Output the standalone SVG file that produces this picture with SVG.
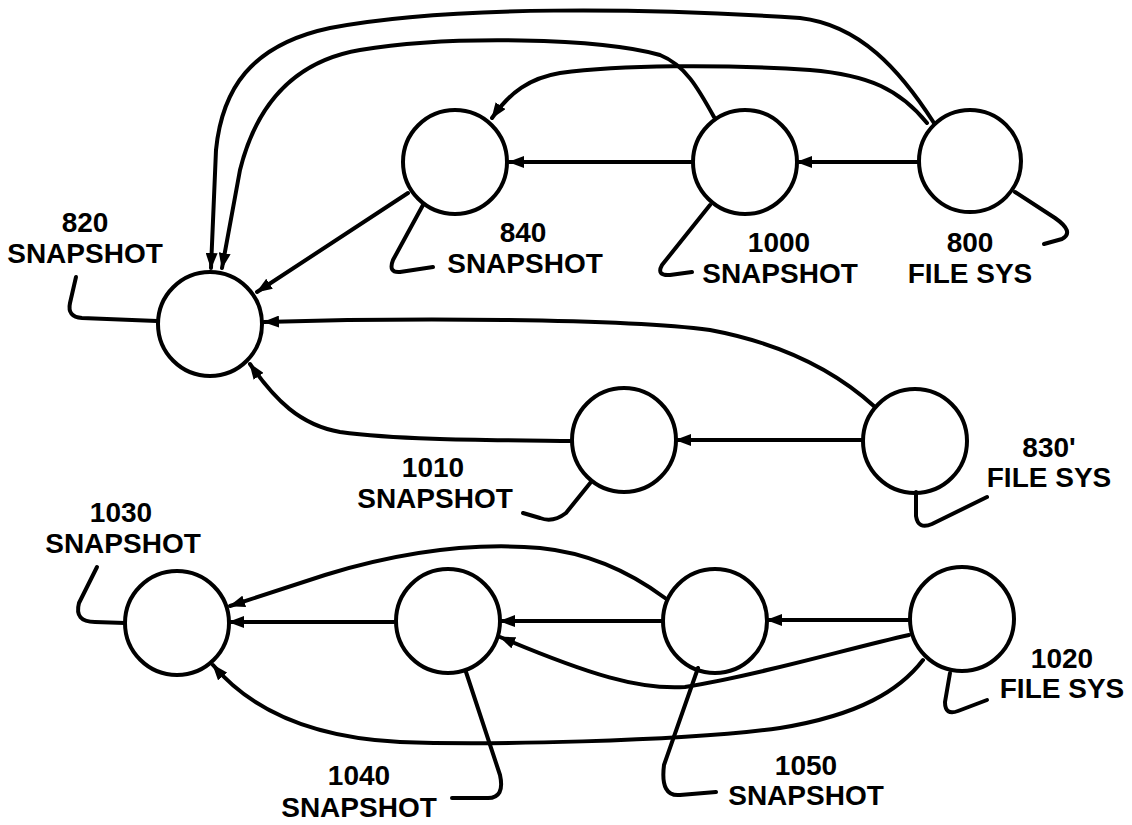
<svg xmlns="http://www.w3.org/2000/svg" width="1132" height="825" viewBox="0 0 1132 825">
<defs>
<marker id="ah" markerUnits="userSpaceOnUse" markerWidth="16" markerHeight="12" refX="15" refY="6" orient="auto">
<path d="M0,0 L16,6 L0,12 z" fill="#000"/>
</marker>
<style>
.n{fill:#fff;stroke:#000;stroke-width:4}
.c{fill:none;stroke:#000;stroke-width:4;stroke-linecap:round;stroke-linejoin:round}
.a{marker-end:url(#ah)}
.t{font-family:"Liberation Sans",Arial,sans-serif;font-weight:bold;font-size:28px;text-anchor:middle;fill:#000}
</style>
</defs>
<rect width="1132" height="825" fill="#fff"/>
<g id="connectors">
<path class="c a" d="M934 123 C900 70,860 25,800 18 C650 8,450 5,330 28 C250 45,222 90,216 150 L211 268"/>
<path class="c a" d="M714 117 C698 88,685 65,660 55 C600 38,450 35,360 50 C290 62,255 110,240 170 L222 268"/>
<path class="c a" d="M927 123 C900 90,870 75,810 70 C720 64,620 65,560 73 C530 78,510 92,492 118"/>
<path class="c a" d="M693 162 L509 162"/>
<path class="c a" d="M919 162 L797 162"/>
<path class="c a" d="M408 193 L257 292"/>
<path class="c a" d="M875 407 C840 375,790 345,710 330 C620 318,400 318,264 322"/>
<path class="c a" d="M862 440 L676 440"/>
<path class="c a" d="M572 441 C480 440,400 440,340 432 C300 425,275 400,250 364"/>
<path class="c a" d="M665 598 C630 572,590 553,540 548 C470 542,400 552,325 575 L230 606"/>
<path class="c a" d="M394 622 L229 622"/>
<path class="c a" d="M663 621 L500 621"/>
<path class="c a" d="M909 620 L767 620"/>
<path class="c a" d="M909 635 C850 648,760 675,685 687 C640 690,590 675,500 637"/>
<path class="c a" d="M923 660 C900 690,860 715,780 728 C680 742,480 745,400 742 C320 738,255 715,213 665"/>
</g>
<g id="n820"><circle class="n" cx="210" cy="324" r="52"/><path class="c" d="M76 277 L70 303 Q67 317 82 318 L157 321"/><text class="t" x="85" y="232">820</text><text class="t" x="85" y="263">SNAPSHOT</text></g>
<g id="n840"><circle class="n" cx="455" cy="162" r="52"/><path class="c" d="M423 205 L393 260 Q388 273 400 272 L433 267"/><text class="t" x="523" y="242">840</text><text class="t" x="525" y="273">SNAPSHOT</text></g>
<g id="n1000"><circle class="n" cx="745" cy="162" r="52"/><path class="c" d="M710 205 L662 265 Q656 276 670 275 L692 272"/><text class="t" x="779" y="252">1000</text><text class="t" x="780" y="283">SNAPSHOT</text></g>
<g id="n800"><circle class="n" cx="970" cy="161" r="51"/><path class="c" d="M1015 192 L1055 218 Q1075 232 1062 239 L1044 244"/><text class="t" x="970" y="252">800</text><text class="t" x="970" y="283">FILE SYS</text></g>
<g id="n1010"><circle class="n" cx="624" cy="440" r="52"/><path class="c" d="M591 482 L566 513 Q553 523 540 518 L523 513"/><text class="t" x="433" y="477">1010</text><text class="t" x="435" y="508">SNAPSHOT</text></g>
<g id="n830"><circle class="n" cx="915" cy="441" r="52"/><path class="c" d="M916 492 L916 516 Q918 530 932 524 L987 497"/><text class="t" x="1049" y="457">830'</text><text class="t" x="1049" y="487">FILE SYS</text></g>
<g id="n1030"><circle class="n" cx="177" cy="623" r="52"/><path class="c" d="M97 567 L79 603 Q74 622 95 622 L125 623"/><text class="t" x="121" y="522">1030</text><text class="t" x="123" y="553">SNAPSHOT</text></g>
<g id="n1040"><circle class="n" cx="448" cy="621" r="52"/><path class="c" d="M466 672 L500 775 Q505 798 488 798 L452 798"/><text class="t" x="359" y="785">1040</text><text class="t" x="359" y="817">SNAPSHOT</text></g>
<g id="n1050"><circle class="n" cx="715" cy="621" r="52"/><path class="c" d="M698 668 L664 765 Q660 797 680 795 L716 792"/><text class="t" x="806" y="775">1050</text><text class="t" x="806" y="805">SNAPSHOT</text></g>
<g id="n1020"><circle class="n" cx="962" cy="619" r="52"/><path class="c" d="M950 673 L945 702 Q945 716 958 711 L987 700"/><text class="t" x="1062" y="668">1020</text><text class="t" x="1062" y="698">FILE SYS</text></g>
</svg>
